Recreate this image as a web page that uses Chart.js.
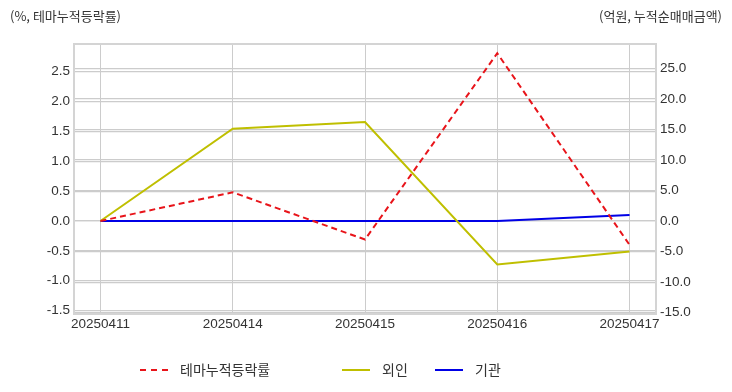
<!DOCTYPE html>
<html>
<head>
<meta charset="utf-8">
<script src="https://cdn.jsdelivr.net/npm/chart.js@4"></script>
<style>
    body { margin: 0; background: #fff; font-family: 'Liberation Sans', 'Noto Sans CJK KR', sans-serif; color: #333; }
    #wrap { position: relative; width: 732px; height: 392px; }
    canvas { position: absolute; left: 0; top: 0; }
    .unit { position: absolute; top: 6px; font-size: 13px; font-family: 'Noto Sans CJK KR', sans-serif; color: #333; }
    .legend { position: absolute; top: 359px; font-size: 14px; font-family: 'Noto Sans CJK KR', sans-serif; color: #333; }
    .legend span { position: absolute; white-space: nowrap; }
    .legend i { position: absolute; top: 10px; width: 28px; height: 0; }
</style>
</head>
<body>
<div id="wrap">
    <canvas id="chart" width="732" height="392"></canvas>
    <div class="unit" style="left:10px">(%, 테마누적등락률)</div>
    <div class="unit" style="right:10px">(억원, 누적순매매금액)</div>
    <div class="legend" id="legend"></div>
</div>
<script>
// 데이터
const dates = ['20250411', '20250414', '20250415', '20250416', '20250417'];
const themeReturn = [0, 0.48, -0.31, 2.81, -0.40];   // 테마누적등락률 (%)
const foreignNet = [0, 15.1, 16.2, -7.1, -5.0];      // 외인 (억원)
const instNet = [0, 0, 0, 0, 1.0];                   // 기관 (억원)
const leftTicks = [-1.5, -1.0, -0.5, 0.0, 0.5, 1.0, 1.5, 2.0, 2.5];
const rightTicks = [-15, -10, -5, 0, 5, 10, 15, 20, 25];

const seriesInfo = [
    { label: '테마누적등락률', color: '#e8141a', dash: [6, 4], axis: 'y', data: themeReturn },
    { label: '외인', color: '#bfbf00', dash: [], axis: 'y1', data: foreignNet },
    { label: '기관', color: '#0000e6', dash: [], axis: 'y1', data: instNet }
];

const tickFont = { family: "'Liberation Sans', Arial, sans-serif", size: 13.5 };

// 플롯 테두리
const framePlugin = {
    id: 'frame',
    afterDatasetsDraw(chart) {
        const { ctx, chartArea: a } = chart;
        ctx.save();
        ctx.strokeStyle = '#d4d4d4';
        ctx.lineWidth = 2;
        ctx.strokeRect(a.left, a.top, a.right - a.left, a.bottom - a.top);
        ctx.restore();
    }
};

new Chart(document.getElementById('chart'), {
    type: 'line',
    data: {
        datasets: seriesInfo.map(s => ({
            label: s.label,
            data: s.data.map((v, i) => ({ x: i, y: v })),
            borderColor: s.color,
            borderDash: s.dash,
            borderWidth: 2,
            pointRadius: 0,
            tension: 0,
            yAxisID: s.axis
        }))
    },
    options: {
        responsive: false,
        animation: false,
        layout: { padding: { top: 44, bottom: 52, left: 0, right: 0 } },
        plugins: { legend: { display: false }, tooltip: { enabled: false } },
        scales: {
            x: {
                type: 'linear',
                min: -0.2,
                max: 4.2,
                afterBuildTicks: axis => { axis.ticks = dates.map((d, i) => ({ value: i })); },
                afterFit: axis => { axis.height = 26; },
                ticks: {
                    callback: v => dates[v],
                    font: tickFont,
                    color: '#333',
                    padding: 2,
                    maxRotation: 0
                },
                grid: { color: '#cccccc', lineWidth: 1, drawTicks: false },
                border: { display: false }
            },
            y: {
                position: 'left',
                min: -1.558,
                max: 2.965,
                afterBuildTicks: axis => { axis.ticks = leftTicks.map(v => ({ value: v })); },
                afterFit: axis => { axis.width = 74; },
                ticks: {
                    callback: v => v.toFixed(1),
                    font: tickFont,
                    color: '#333',
                    padding: 4
                },
                grid: { color: '#cccccc', lineWidth: 1.2, drawTicks: false },
                border: { display: false }
            },
            y1: {
                position: 'right',
                min: -15.22,
                max: 28.97,
                afterBuildTicks: axis => { axis.ticks = rightTicks.map(v => ({ value: v })); },
                afterFit: axis => { axis.width = 76; },
                ticks: {
                    callback: v => v.toFixed(1),
                    font: tickFont,
                    color: '#333',
                    padding: 4
                },
                grid: { color: '#cccccc', lineWidth: 1.2, drawTicks: false },
                border: { display: false }
            }
        }
    },
    plugins: [framePlugin]
});

// 범례
const legendPos = [140, 342, 435];
const legendEl = document.getElementById('legend');
seriesInfo.forEach((s, i) => {
    const line = document.createElement('i');
    line.style.left = legendPos[i] + 'px';
    line.style.borderTop = '2px ' + (s.dash.length ? 'dashed ' : 'solid ') + s.color;
    legendEl.appendChild(line);
    const txt = document.createElement('span');
    txt.style.left = (legendPos[i] + 40) + 'px';
    txt.textContent = s.label;
    legendEl.appendChild(txt);
});
</script>
</body>
</html>
